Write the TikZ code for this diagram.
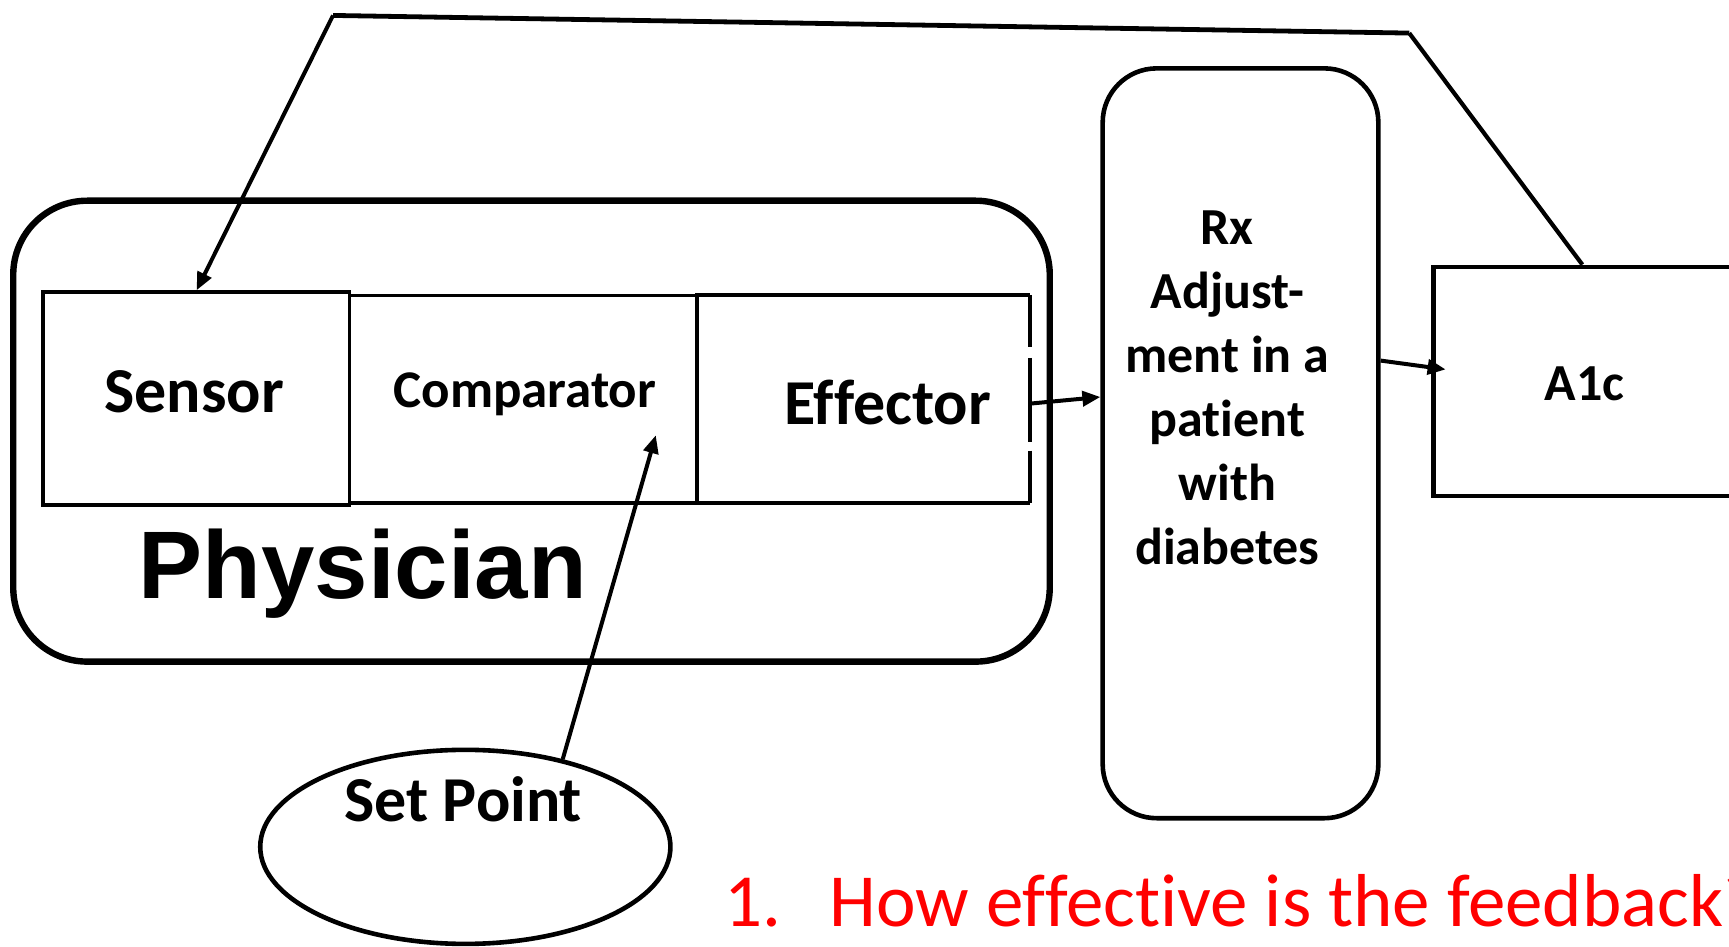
\documentclass[tikz,border=0pt]{standalone}
\usepackage{fontspec}
\setmainfont{Carlito}[Ligatures={NoCommon}]
\newfontfamily\physfont{Liberation Sans}
\usetikzlibrary{arrows.meta,calc,shapes.geometric}
\def\u{0.55135pt}
\tikzset{
  blk/.style={rectangle, draw, inner sep=0pt, line width=1.9pt},
  lbl/.style={inner sep=0pt, font=\bfseries\fontsize{26}{32}\selectfont},
  biglbl/.style={inner sep=0pt, font=\bfseries\fontsize{32}{38}\selectfont},
  conn/.style={line width=2pt, -{Triangle[length=9pt,width=7.5pt]}},
  plain/.style={line width=2.1pt},
}
\begin{document}
\begin{tikzpicture}[x=0.55135pt,y=-0.55135pt]
\useasboundingbox (0,0) rectangle (1568,858);
\clip (0,0) rectangle (1568,858);

% physician frame
\node[blk, rounded corners=37pt, line width=3.2pt,
      minimum width={940*\u}, minimum height={418*\u}] (physician) at (482,391) {};

% the three stages inside the physician
\node[blk, minimum width={278*\u}, minimum height={193*\u}] (sensor) at (178,361.5) {};
\node[blk, minimum width={315*\u}, minimum height={188*\u}] (comparator) at (474.5,362) {};
\node[rectangle, inner sep=0pt, minimum width={302*\u}, minimum height={188*\u}] (effector) at (783,362) {};
\draw[line width=1.9pt] (effector.north east) -- (effector.north west)
  -- (effector.south west) -- (effector.south east);
\draw[line width=1.9pt] (effector.north east) -- ($(effector.north east)+(0,47)$);
\draw[line width=1.9pt] ($(effector.north east)+(0,57)$) -- ($(effector.north east)+(0,133)$);
\draw[line width=1.9pt] ($(effector.north east)+(0,141)$) -- (effector.south east);

\node[biglbl] (sensortxt) at (176,355) {Sensor};
\node[lbl, font=\bfseries\fontsize{26.5}{32}\selectfont] (comparatortxt) at (476,358) {Comparator};
\node[biglbl] (effectortxt) at (805,365) {Effector};
\node[inner sep=0pt, anchor=base, font=\physfont\bfseries\fontsize{48}{56}\selectfont]
  (physiciantxt) at (329,543) {Physician};

% treatment adjustment
\node[blk, rounded corners=27pt, line width=2.3pt,
      minimum width={250*\u}, minimum height={680*\u}] (rx) at (1125,402) {};
\node[lbl, align=center] (rxtxt) at (1113,352)
  {Rx\\Adjust-\\ment in a\\patient\\with\\diabetes};

% measured value
\node[blk, line width=2.2pt, minimum width={300*\u}, minimum height={208*\u}] (aonec) at (1450,346) {};
\node[lbl] (aonectxt) at (1437,348) {A1c};

% set point
\node[ellipse, draw, line width=2.3pt, inner sep=0pt,
      minimum width={372*\u}, minimum height={176*\u}] (setpoint) at (422,768) {};
\node[biglbl] (setpointtxt) at (420,725) {Set Point};

% connectors
\draw[conn] ($(effector.east)+(0,4)$) -- ($(rx.west)+(0,-42)$);
\draw[conn] ($(rx.east)+(0,-75)$) -- ($(aonec.west)+(13,-11)$);
\draw[conn] (setpoint.42) -- ($(comparator.south east)+(-39,-63)$);

% feedback loop back to the sensor
\coordinate (fbR) at (1278,30);
\coordinate (fbL) at (302,14);
\draw[plain] ($(aonec.north west)+(137,0)$) -- (fbR);
\draw[plain, line width=2.4pt] (fbR) -- (fbL);
\draw[conn] (fbL) -- ($(sensor.north west)+(141,0)$);

% question
\node[inner sep=0pt, anchor=base west, text=red, font=\fontsize{37.5}{44}\selectfont]
  (qnum) at (657,840) {1.};
\node[inner sep=0pt, anchor=base west, text=red, font=\fontsize{37.5}{44}\selectfont]
  (qtxt) at (752,840) {How effective is the feedback?};
\end{tikzpicture}
\end{document}
